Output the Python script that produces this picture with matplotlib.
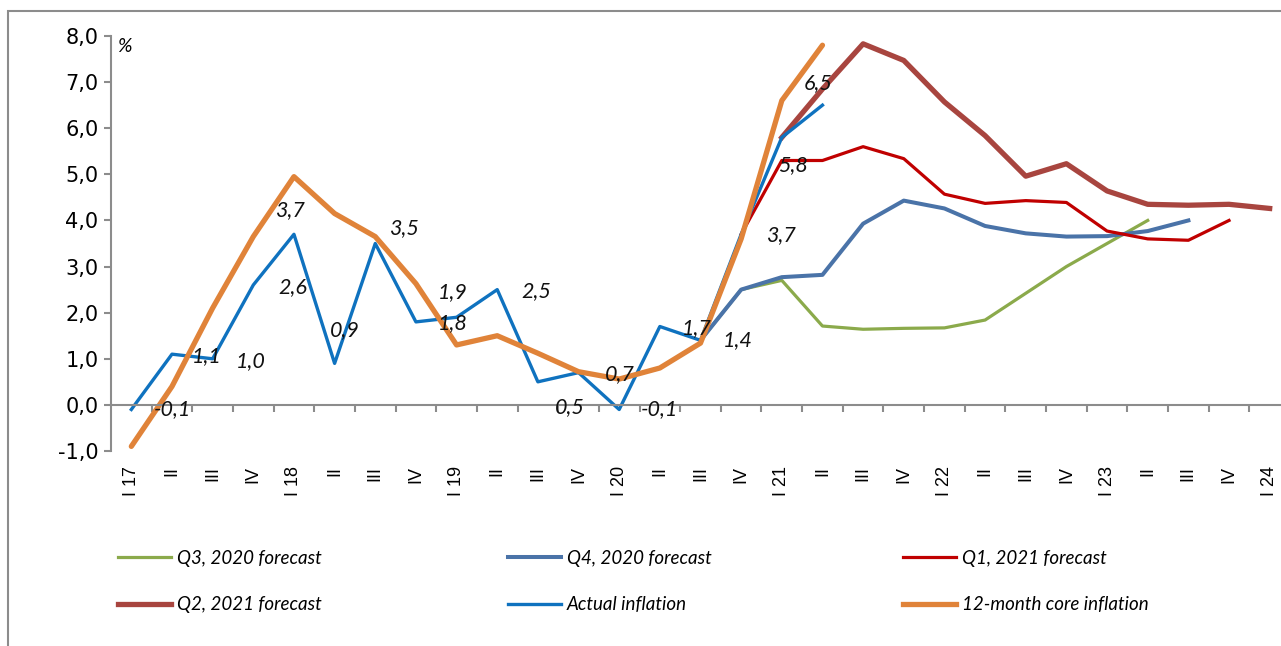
import matplotlib
matplotlib.use('Agg')
import matplotlib.pyplot as plt
from matplotlib.lines import Line2D
from matplotlib.patches import Rectangle
from matplotlib.ticker import FixedLocator, FuncFormatter
import numpy as np

# quarters, I 2017 .. I 2024
quarters = ['I 17', 'II', 'III', 'IV', 'I 18', 'II', 'III', 'IV',
            'I 19', 'II', 'III', 'IV', 'I 20', 'II', 'III', 'IV',
            'I 21', 'II', 'III', 'IV', 'I 22', 'II', 'III', 'IV',
            'I 23', 'II', 'III', 'IV', 'I 24']

# actual and core inflation, from I 17
actual = [-0.1, 1.1, 1.0, 2.6, 3.7, 0.9, 3.5, 1.8, 1.9, 2.5, 0.5, 0.7,
          -0.1, 1.7, 1.4, 3.7, 5.8, 6.5]
core = [-0.9, 0.4, 2.1, 3.65, 4.95, 4.15, 3.65, 2.63, 1.3, 1.5, 1.12, 0.72,
        0.56, 0.8, 1.34, 3.6, 6.6, 7.8]

# forecasts: first quarter index + values
q3_2020_start = 14
q3_2020 = [1.4, 2.5, 2.7, 1.71, 1.64, 1.66, 1.67, 1.84, 2.42, 3.0, 3.5, 4.0]
q4_2020_start = 14
q4_2020 = [1.4, 2.5, 2.77, 2.82, 3.93, 4.43, 4.26, 3.88, 3.72, 3.65, 3.66, 3.77, 4.0]
q1_2021_start = 15
q1_2021 = [3.7, 5.3, 5.3, 5.6, 5.34, 4.57, 4.37, 4.43, 4.39, 3.77, 3.6, 3.57, 4.0]
q2_2021_start = 16
q2_2021 = [5.8, 6.85, 7.83, 7.47, 6.57, 5.84, 4.96, 5.23, 4.64, 4.35, 4.33, 4.35, 4.26]

# label offsets for the actual-inflation labels (pixels)
lbl_off = [(41, 0), (35, -2), (38, -2), (40, -2), (-4, 24), (10, 33), (29, 15),
           (37, -1), (-4, 25), (39, -1), (32, -25), (41, -1), (40, 0), (37, -2),
           (37, 0), (40, -1), (11, -28), (-4, 22)]

c_green = '#8BAA4B'
c_steel = '#4A73A8'
c_red = '#C00000'
c_brown = '#A8453F'
c_blue = '#0F72BF'
c_orange = '#E08339'
c_axis = '#8C8C8C'

fig = plt.figure(figsize=(12.81, 6.46), dpi=100)
ax = fig.add_axes([111 / 1281, 1 - 451 / 646, 1179 / 1281, 415 / 646])

def fx(start, vals):
    return np.arange(start, start + len(vals))

ax.plot(fx(q3_2020_start, q3_2020), q3_2020, color=c_green, lw=2.3, label='Q3, 2020 forecast')
ax.plot(fx(q4_2020_start, q4_2020), q4_2020, color=c_steel, lw=2.9, label='Q4, 2020 forecast')
ax.plot(fx(q1_2021_start, q1_2021), q1_2021, color=c_red, lw=2.3, label='Q1, 2021 forecast')
ax.plot(fx(q2_2021_start, q2_2021), q2_2021, color=c_brown, lw=3.8, label='Q2, 2021 forecast')
ax.plot(fx(0, actual), actual, color=c_blue, lw=2.4, label='Actual inflation')
ax.plot(fx(0, core), core, color=c_orange, lw=3.8, solid_capstyle='round', label='12-month core inflation')

for i, v in enumerate(actual):
    ax.annotate(('%.1f' % v).replace('.', ','), (i, v), xytext=lbl_off[i],
                textcoords='offset pixels', ha='center', va='center',
                fontsize=15.5, style='italic', family='Lato', color='#111111')

ax.set_xlim(-0.5, 28.5)
ax.set_ylim(-1, 8)

for s in ['top', 'right']:
    ax.spines[s].set_visible(False)
ax.spines['left'].set_color(c_axis)
ax.spines['left'].set_linewidth(1.5)
ax.spines['bottom'].set_position(('data', 0))
ax.spines['bottom'].set_color(c_axis)
ax.spines['bottom'].set_linewidth(1.5)

ax.set_yticks(np.arange(-1, 9))
ax.yaxis.set_major_formatter(FuncFormatter(lambda v, p: ('%.1f' % v).replace('.', ',')))
ax.tick_params(axis='y', length=5, width=1.5, color=c_axis, labelsize=15, pad=4)

ax.set_xticks(np.arange(len(quarters)))
ax.set_xticklabels(quarters, rotation=90, va='top', fontsize=13, family='Liberation Sans')
ax.xaxis.set_minor_locator(FixedLocator(np.arange(0.5, len(quarters) - 1, 1.0)))
ax.tick_params(axis='x', which='major', length=0, pad=44)
ax.tick_params(axis='x', which='minor', length=5, width=1.5, color=c_axis, direction='out')

ax.text(117, 646 - 46, '%', transform=None, fontsize=14, style='italic',
        family='Lato', ha='left', va='center')

# outer frame
fig.patches.append(Rectangle((8 / 1281, -0.1), 1.2, 1 - 11 / 646 + 0.1, transform=fig.transFigure,
                             fill=False, edgecolor='#8C8C8C', lw=1.5))

# legend, three columns
h = {l.get_label(): l for l in ax.get_lines()}
cols = [(['Q3, 2020 forecast', 'Q2, 2021 forecast'], 118),
        (['Q4, 2020 forecast', 'Actual inflation'], 508),
        (['Q1, 2021 forecast', '12-month core inflation'], 903)]
for names, xpx in cols:
    hs = [Line2D([], [], color=h[n].get_color(), lw=h[n].get_linewidth()) for n in names]
    fig.legend(hs, names, loc='upper left', bbox_to_anchor=(xpx / 1281, 1 - 550 / 646),
               frameon=False, handlelength=2.8, handletextpad=0.35, labelspacing=1.55,
               borderpad=0, borderaxespad=0,
               prop={'family': 'Lato', 'style': 'italic', 'size': 13.5})

fig.savefig('out.png', dpi=100)
